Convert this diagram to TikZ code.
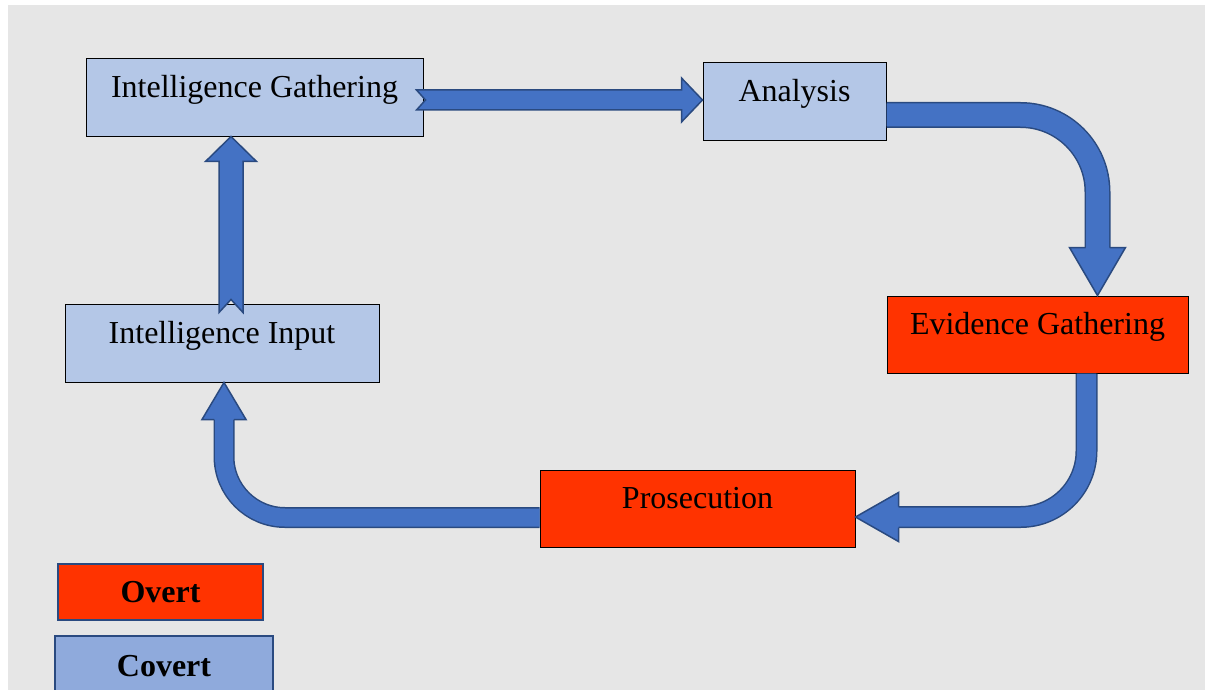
\documentclass[tikz,border=0pt]{standalone}
\usepackage{fontspec}
\setmainfont{Liberation Serif}
\usetikzlibrary{calc}
\definecolor{panelgray}{HTML}{E6E6E6}
\definecolor{covertblue}{HTML}{B4C7E7}
\definecolor{legendblue}{HTML}{8FAADC}
\definecolor{overtred}{HTML}{FF3300}
\definecolor{arrowblue}{HTML}{4472C4}
\definecolor{arrowline}{HTML}{2A4A80}
\tikzset{%
  stage/.style      = {shape=rectangle, draw=black, line width=1pt, inner sep=0pt,%
                       text height=21pt, text depth=21pt,%
                       font=\fontsize{32}{38}\selectfont},%
  covert/.style     = {stage, fill=covertblue},%
  overt/.style      = {stage, fill=overtred},%
  legendbox/.style  = {shape=rectangle, draw=arrowline, line width=2.5pt, inner sep=0pt,%
                       font=\fontsize{32}{38}\selectfont\bfseries},%
  blockarrow/.style = {fill=arrowblue, draw=arrowline, line width=1.5pt, line join=miter},%
  shaft/.style      = {draw=arrowline, line width=1.5pt, double=arrowblue, double distance=#1}%
}

\begin{document}
\begin{tikzpicture}[x=1pt, y=-1pt]
  \useasboundingbox (0,0) rectangle (1205,690);
  \fill[panelgray] (8,5) rectangle (1205,690);

  % the cycle
  \node[covert, minimum width=337pt, minimum height=78pt] (gather) at (254.5,98) {Intelligence Gathering};
  \node[covert, minimum width=183pt, minimum height=78pt] (analysis) at (794.5,102) {Analysis};
  \node[overt, minimum width=301pt, minimum height=77pt] (evidence) at (1037.5,334.5) {Evidence Gathering};
  \node[overt, minimum width=315pt, minimum height=77pt] (prosecution) at (697.5,508.5) {Prosecution};
  \node[covert, minimum width=314pt, minimum height=78pt] (input) at (222,343) {Intelligence Input};

  % key
  \node[legendbox, fill=overtred, minimum width=205pt, minimum height=56pt] (keyovert) at (160.5,592) {Overt};
  \node[legendbox, fill=legendblue, minimum width=218pt, minimum height=60pt] (keycovert) at (164,666) {Covert};

  % gathering -> analysis
  \coordinate (t1) at ($(gather.east)+(-7,2)$);
  \coordinate (h1) at ($(analysis.west)+(0,-2)$);
  \draw[blockarrow] ($(t1)+(0,-10)$) -- ($(h1)+(-21,-10)$) -- ($(h1)+(-21,-22)$) -- (h1)
    -- ($(h1)+(-21,22)$) -- ($(h1)+(-21,10)$) -- ($(t1)+(0,10)$) -- ($(t1)+(9,0)$) -- cycle;

  % analysis -> evidence
  \coordinate (h3) at ($(evidence.north east)+(-91,0)$);
  \draw[shaft=23pt, rounded corners=77pt] ($(analysis.east)+(0,13)$) -| ($(h3)+(0,-46)$);
  \filldraw[blockarrow] ($(h3)+(-12,-48)$) -- ($(h3)+(-28,-48)$) -- (h3) -- ($(h3)+(28,-48)$) -- ($(h3)+(12,-48)$);

  % evidence -> prosecution
  \coordinate (h4) at ($(prosecution.east)+(0,8.5)$);
  \draw[shaft=19pt, rounded corners=66pt] ($(evidence.south east)+(-102,0)$) |- ($(h4)+(41,0)$);
  \filldraw[blockarrow] ($(h4)+(43,-10.5)$) -- ($(h4)+(43,-24.5)$) -- (h4) -- ($(h4)+(43,24.5)$) -- ($(h4)+(43,10.5)$);

  % prosecution -> input
  \coordinate (h5) at ($(input.south)+(2,0)$);
  \draw[shaft=18pt, rounded corners=61pt] ($(prosecution.west)+(0,9)$) -| ($(h5)+(0,35)$);
  \filldraw[blockarrow] ($(h5)+(-10,37)$) -- ($(h5)+(-22,37)$) -- (h5) -- ($(h5)+(22,37)$) -- ($(h5)+(10,37)$);

  % input -> gathering
  \coordinate (t2) at ($(input.north)+(9,9)$);
  \coordinate (h2) at ($(gather.south)+(-23.5,-1)$);
  \draw[blockarrow] ($(t2)+(-12,0)$) -- ($(h2)+(-12,25)$) -- ($(h2)+(-25.5,25)$) -- (h2)
    -- ($(h2)+(25.5,25)$) -- ($(h2)+(12,25)$) -- ($(t2)+(12,0)$) -- ($(t2)+(0,-13)$) -- cycle;
\end{tikzpicture}
\end{document}
